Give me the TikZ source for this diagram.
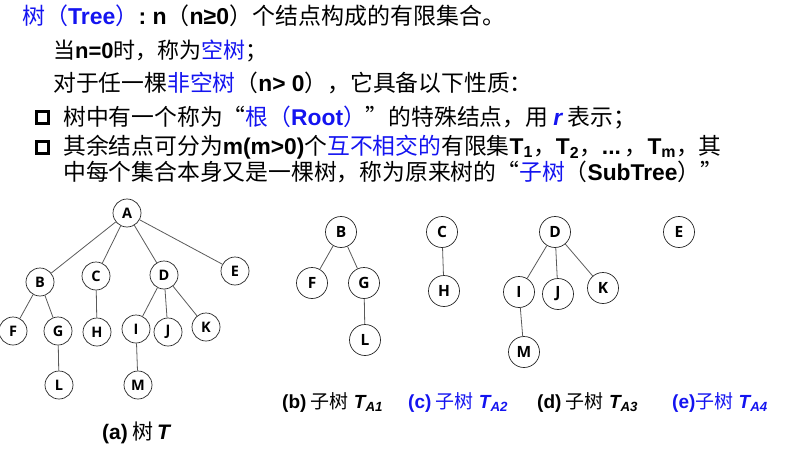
\documentclass[tikz,border=0pt]{standalone}
\usepackage{fontspec}
\setmainfont{Noto Sans CJK SC}
\newfontfamily\lat{Liberation Sans}
\newfontfamily\nodefont{Open Sans}
\definecolor{tblue}{RGB}{20,20,240}
\definecolor{edgegray}{RGB}{90,90,90}
\begin{document}
\begin{tikzpicture}[x=1pt,y=-1pt,
  txt/.style={anchor=base west,inner sep=0pt,font=\fontsize{22.8}{26}\selectfont},
  lbl/.style={anchor=base west,inner sep=0pt,font=\fontsize{19}{22}\selectfont},
  tn/.style={circle,draw=black!85,line width=0.7pt,minimum size=28pt,inner sep=0pt,font=\nodefont\bfseries\fontsize{14.5}{14.5}\selectfont},
  sn/.style={circle,draw=black!85,line width=0.7pt,minimum size=31pt,inner sep=0pt,font=\nodefont\bfseries\fontsize{15.5}{15.5}\selectfont},
  edge/.style={draw=edgegray,line width=0.8pt},
  chk/.style={rectangle,draw=black,line width=2.6pt,minimum size=12.5pt,inner sep=0pt}]
\useasboundingbox (0,0) rectangle (797,468);
% text
\node[txt,font=\fontsize{23}{27}\selectfont] (l1) at (22,25) {{\color{tblue}树（{\lat\bfseries Tree}）}{\lat\bfseries :~n}（{\lat\bfseries n≥0}）个结点构成的有限集合。};
\node[txt,font=\fontsize{22}{26}\selectfont] (l2) at (53,59) {当{\lat\bfseries n=0}时，称为{\color{tblue}空树}；};
\node[txt] (l3) at (53,92) {对于任一棵{\color{tblue}非空树}（{\lat\bfseries n> 0}），它具备以下性质：};
\node[chk] (c1) at (42.5,117.5) {};
\node[txt] (l4) at (63,125) {树中有一个称为“{\color{tblue}根（{\lat\bfseries Root}）}”的特殊结点，用 {\lat\bfseries\itshape\color{tblue}r} 表示；};
\node[chk] (c2) at (42.5,147.5) {};
\node[txt] (l5) at (63,154) {其余结点可分为{\lat\bfseries m(m>0)}个{\color{tblue}互不相交的}有限集{\lat\bfseries T\textsubscript{1}}，{\lat\bfseries T\textsubscript{2}}，{\lat\bfseries ...}\,，{\lat\bfseries T\textsubscript{m}}，其};
\node[txt] (l6) at (63,180) {中每个集合本身又是一棵树，称为原来树的“{\color{tblue}子树}（{\lat\bfseries SubTree}）”};
% tree T
\node[tn] (A) at (127,213) {A};
\node[tn] (B) at (40,282) {B};
\node[tn] (C) at (96,276) {C};
\node[tn] (D) at (164,275) {D};
\node[tn] (E) at (235,271) {E};
\node[tn] (F) at (13,331) {F};
\node[tn] (G) at (58,331) {G};
\node[tn] (H) at (97,332) {H};
\node[tn] (I) at (136,329) {I};
\node[tn] (J) at (168,332) {J};
\node[tn] (K) at (206,327) {K};
\node[tn] (L) at (59,385) {L};
\node[tn] (M) at (138,385) {M};
\path[edge] (A)--(B) (A)--(C) (A)--(D) (A)--(E) (B)--(F) (B)--(G) (G)--(L) (C)--(H) (D)--(I) (D)--(J) (D)--(K) (I)--(M);
\node[lbl,font=\fontsize{21}{24}\selectfont] (la) at (102,439) {{\lat\bfseries (a)} 树\,{\lat\bfseries\itshape T}};
% subtree B
\node[sn] (B1) at (341,232) {B};
\node[sn] (F1) at (312,283) {F};
\node[sn] (G1) at (364,283) {G};
\node[sn] (L1) at (365,340) {L};
\path[edge] (B1)--(F1) (B1)--(G1) (G1)--(L1);
% subtree C
\node[sn] (C1) at (442,232) {C};
\node[sn] (H1) at (444,291) {H};
\path[edge] (C1)--(H1);
% subtree D
\node[sn] (D1) at (555,232) {D};
\node[sn] (I1) at (519,292) {I};
\node[sn] (J1) at (558,294) {J};
\node[sn] (K1) at (603,288) {K};
\node[sn] (M1) at (524,352) {M};
\path[edge] (D1)--(I1) (D1)--(J1) (D1)--(K1) (I1)--(M1);
% subtree E
\node[sn] (E1) at (679,232) {E};
% labels
\node[lbl] (lb) at (282,408) {{\lat\bfseries (b)} 子树{\lat\bfseries\itshape ~T\textsubscript{A1}}};
\node[lbl,text=tblue] (lc) at (408,408) {{\lat\bfseries (c)} 子树{\lat\bfseries\itshape ~T\textsubscript{A2}}};
\node[lbl] (ld) at (537,408) {{\lat\bfseries (d)} 子树{\lat\bfseries\itshape ~T\textsubscript{A3}}};
\node[lbl,text=tblue] (le) at (672,408) {{\lat\bfseries (e)}子树{\lat\bfseries\itshape ~T\textsubscript{A4}}};
\end{tikzpicture}
\end{document}
